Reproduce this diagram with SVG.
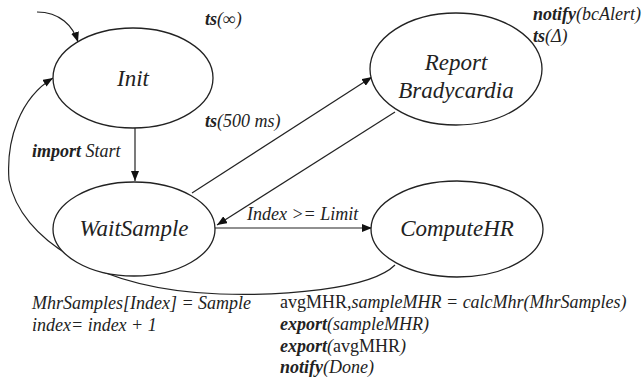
<svg xmlns="http://www.w3.org/2000/svg" width="644" height="380" viewBox="0 0 644 380">
<defs>
<marker id="ah" viewBox="0 0 10 8" refX="10" refY="4" markerWidth="10" markerHeight="8" markerUnits="userSpaceOnUse" orient="auto">
<path d="M0,0 L10,4 L0,8 Z" fill="#111"/>
</marker>
</defs>
<style>
.node{fill:#fff;stroke:#222;stroke-width:1.3}
.edge{fill:none;stroke:#222;stroke-width:1.2;marker-end:url(#ah)}
text{font-family:'Liberation Serif','Times New Roman','DejaVu Serif',serif}
.nl{font-style:italic;font-size:23px;fill:#222;text-anchor:middle}
.lb{font-style:italic;font-size:18px;fill:#222}
.b{font-weight:bold}
.r{font-style:normal}
</style>
<g id="connectors">
<path class="edge" d="M37,12 C60,12 73,26 78,42"/>
<path class="edge" d="M135,128 L135,181"/>
<path class="edge" d="M192,193 L372,77"/>
<path class="edge" d="M395,112 L217,225"/>
<path class="edge" d="M215,228 L372,228"/>
<path class="edge" d="M395,265 C370,290 280,296 220,294 C100,290 20,240 9,180 C6,140 20,98 53,78"/>
</g>
<g id="Init">
<ellipse class="node" cx="133" cy="78" rx="80" ry="50"/>
<text class="nl" x="133" y="86" font-family="Liberation Serif, serif">Init</text>
</g>
<g id="ReportBradycardia">
<ellipse class="node" cx="456" cy="69" rx="86" ry="56"/>
<text class="nl" x="456" y="70">Report</text>
<text class="nl" x="456" y="98">Bradycardia</text>
</g>
<g id="WaitSample">
<ellipse class="node" cx="134" cy="229" rx="81" ry="47"/>
<text class="nl" x="134" y="236">WaitSample</text>
</g>
<g id="ComputeHR">
<ellipse class="node" cx="457" cy="229" rx="86" ry="48"/>
<text class="nl" x="457" y="236">ComputeHR</text>
</g>
<g id="labels">
<text class="lb" x="205" y="25"><tspan class="b">ts</tspan>(∞)</text>
<text class="lb" x="533" y="20"><tspan class="b">notify</tspan>(bcAlert)</text>
<text class="lb" x="533" y="42"><tspan class="b">ts</tspan>(Δ)</text>
<text class="lb" x="205" y="127"><tspan class="b">ts</tspan>(500 ms)</text>
<text class="lb" x="32" y="157"><tspan class="b">import</tspan> Start</text>
<text class="lb" x="247" y="220">Index &gt;= Limit</text>
<text class="lb" x="32" y="309">MhrSamples[Index] = Sample</text>
<text class="lb" x="32" y="331">index= index + 1</text>
<text class="lb" x="280" y="308"><tspan class="r">avgMHR,</tspan>sampleMHR = calcMhr(MhrSamples)</text>
<text class="lb" x="280" y="330"><tspan class="b">export</tspan>(sampleMHR)</text>
<text class="lb" x="280" y="352"><tspan class="b">export</tspan>(<tspan class="r">avgMHR</tspan>)</text>
<text class="lb" x="280" y="373"><tspan class="b">notify</tspan>(Done)</text>
</g>
</svg>
